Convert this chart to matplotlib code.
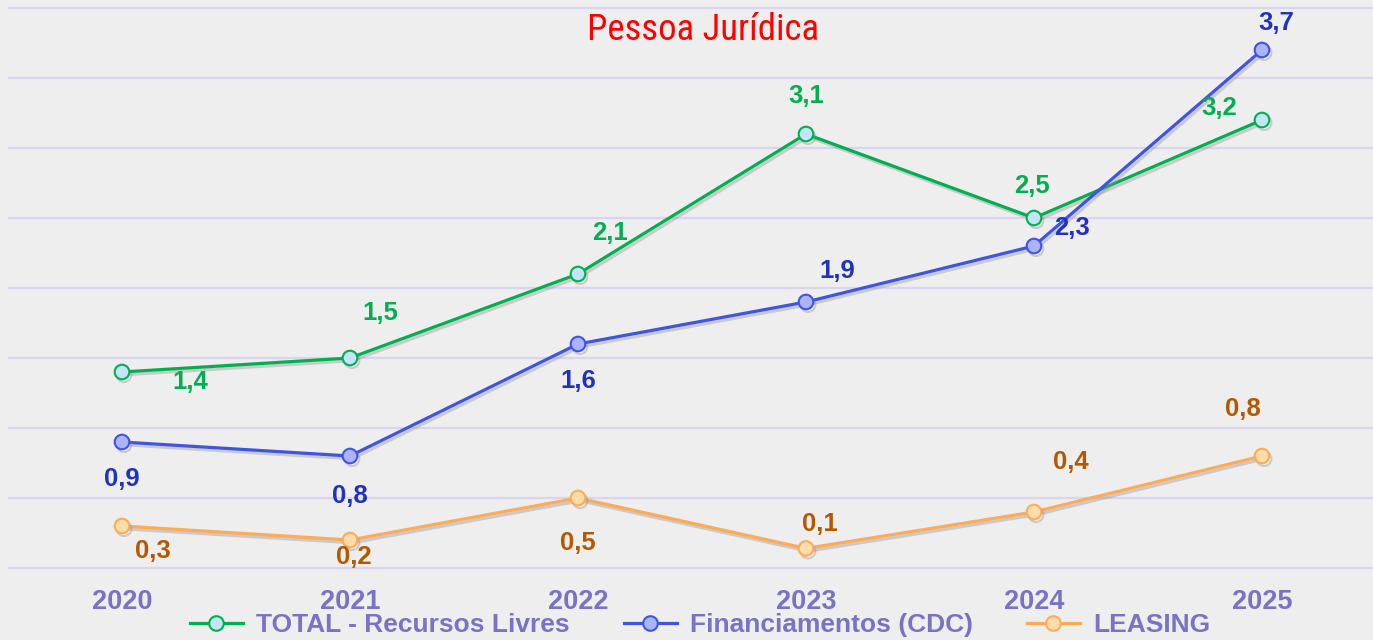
import matplotlib
matplotlib.use("Agg")
import matplotlib.pyplot as plt
from matplotlib import font_manager
import matplotlib.patheffects as pe

years = ["2020", "2021", "2022", "2023", "2024", "2025"]
total = [1.4, 1.5, 2.1, 3.1, 2.5, 3.2]
financ = [0.9, 0.8, 1.6, 1.9, 2.3, 3.7]
leasing = [0.3, 0.2, 0.5, 0.14, 0.4, 0.8]
series_names = ["TOTAL - Recursos Livres", "Financiamentos (CDC)", "LEASING"]
title = "Pessoa Jurídica"

names = {f.name for f in font_manager.fontManager.ttflist}
prefs = ["Liberation Sans Narrow", "Arial Narrow", "Roboto Condensed", "PT Sans Narrow",
         "Archivo Narrow", "Open Sans Condensed", "Pragati Narrow", "Liberation Sans"]
narrow = next(p for p in prefs if p in names)
plt.rcParams['font.family'] = ["Liberation Sans", "DejaVu Sans"]

W, H = 1373, 640
fig = plt.figure(figsize=(W / 100, H / 100), dpi=100)
fig.patch.set_facecolor("#EEEEEE")
ax = fig.add_axes([8 / W, (H - 580) / H, 1368 / W, 580 / H])
ax.set_facecolor("#EEEEEE")
ax.set_xlim(-0.5, 5.5)
ax.set_ylim(-12 / 140, 4 + 8 / 140)
for s in ax.spines.values():
    s.set_visible(False)
ax.set_yticks([i * 0.5 for i in range(9)])
ax.set_yticklabels([])
ax.tick_params(axis="y", length=0)
ax.grid(axis="y", color="#D9D5F0", linewidth=1.6)
ax.set_axisbelow(True)
x = list(range(len(years)))
ax.set_xticks(x)
ax.set_xticklabels(years, fontsize=19.5, fontweight="bold", color="#7A72C2")
ax.tick_params(axis="x", length=0, pad=6.5)

shadow = [pe.SimpleLineShadow(offset=(1.5, -2), shadow_color="#888888", alpha=0.35), pe.Normal()]
styles = [
    (total, "#00B050", "#C4E4F8", "#00B050"),
    (financ, "#3F55E2", "#AAB4F6", "#2233BB"),
    (leasing, "#FFAA55", "#FFDDAA", "#B35A00"),
]
offsets = [
    [(68, -10), (30, 45), (32, 41), (0, 38), (-2, 32), (-43, 12)],
    [(0, -37), (0, -40), (0, -37), (31, 31), (38, 18), (14, 27)],
    [(31, -25), (4, -17), (0, -45), (14, 24), (37, 50), (-19, 47)],
]
handles = []
for (vals, lc, fc, tc), offs, name in zip(styles, offsets, series_names):
    h, = ax.plot(x, vals, color=lc, linewidth=2.3, marker="o", markersize=10.5,
                 markerfacecolor=fc, markeredgecolor=lc, markeredgewidth=1.5,
                 label=name, path_effects=shadow, zorder=3)
    handles.append(h)
    for xi, v, (dx, dy) in zip(x, vals, offs):
        ax.annotate(f"{v:.1f}".replace(".", ","), (xi, v), xytext=(dx, dy),
                    textcoords="offset pixels", ha="center", va="center",
                    fontsize=18.5, fontweight="bold", color=tc, zorder=4)

fig.text(703 / W, 1 - 30 / H, title, color="#FF0000", fontsize=26.5,
         ha="center", va="center", family=[narrow, "DejaVu Sans"])

leg = fig.legend(handles=handles, loc="center", bbox_to_anchor=(700 / W, 1 - 625 / H),
                 ncol=3, frameon=False, fontsize=19, handlelength=2.0,
                 handletextpad=0.5, columnspacing=2.05, borderaxespad=0, borderpad=0)
for t in leg.get_texts():
    t.set_color("#7A72C2")
    t.set_fontweight("bold")
for lh in leg.legend_handles:
    lh.set_path_effects([])

fig.savefig("out.png", dpi=100, facecolor=fig.get_facecolor())
